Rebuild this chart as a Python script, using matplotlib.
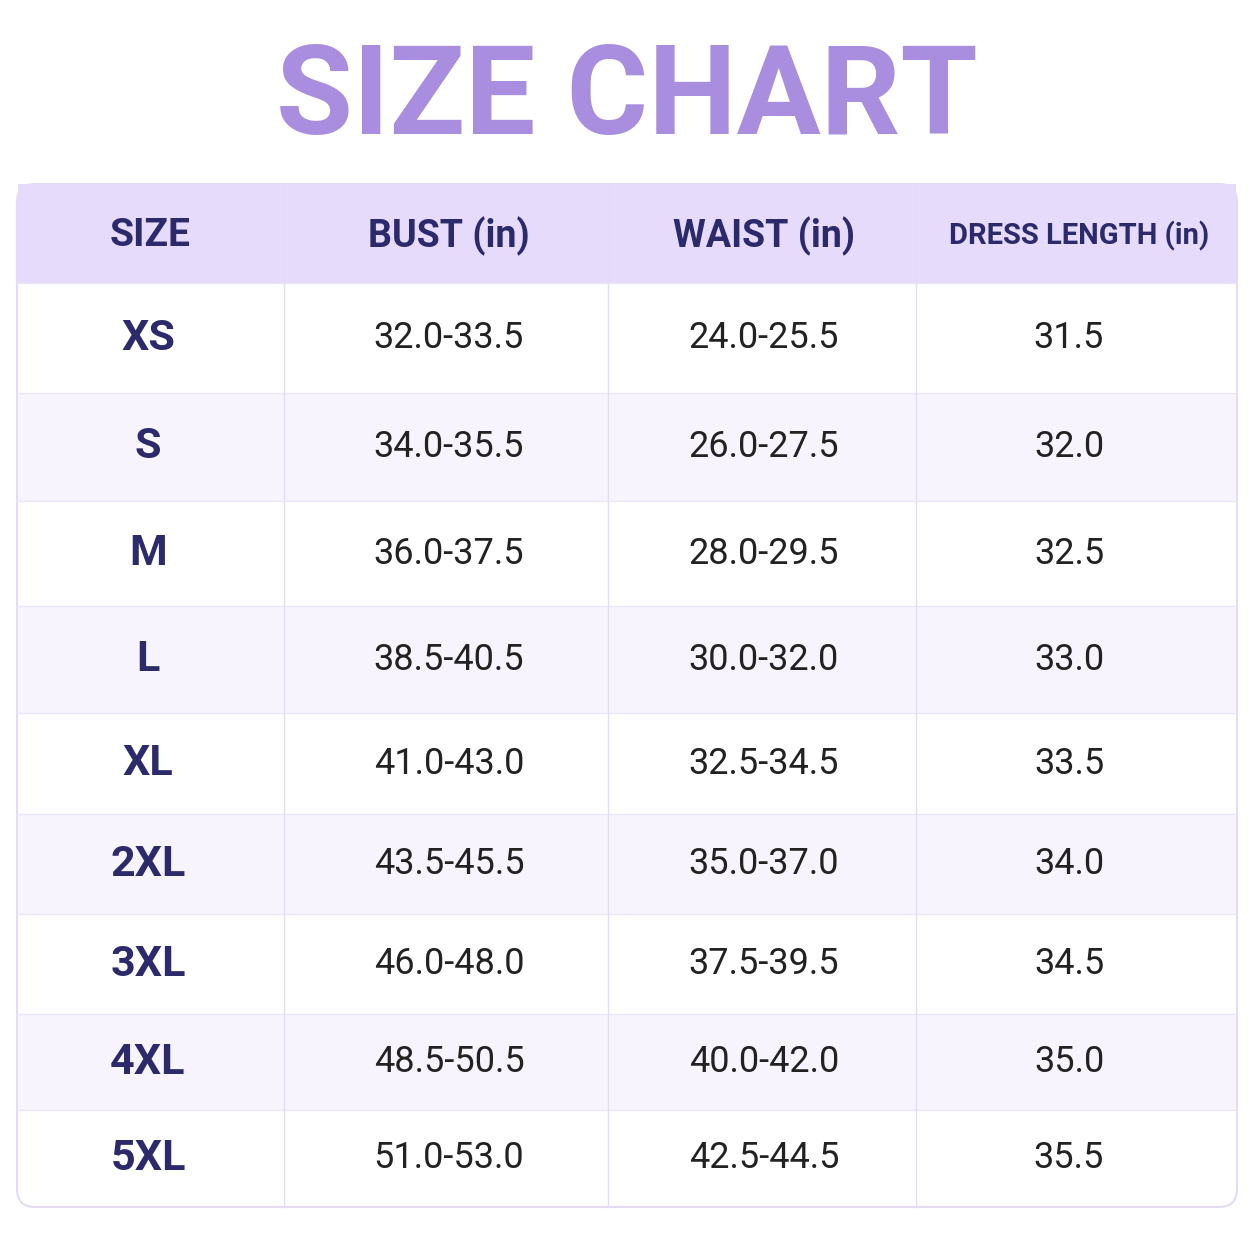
import matplotlib.pyplot as plt
from matplotlib.patches import FancyBboxPatch, Rectangle

sizes = ["XS", "S", "M", "L", "XL", "2XL", "3XL", "4XL", "5XL"]
bust = ["32.0-33.5", "34.0-35.5", "36.0-37.5", "38.5-40.5", "41.0-43.0",
        "43.5-45.5", "46.0-48.0", "48.5-50.5", "51.0-53.0"]
waist = ["24.0-25.5", "26.0-27.5", "28.0-29.5", "30.0-32.0", "32.5-34.5",
         "35.0-37.0", "37.5-39.5", "40.0-42.0", "42.5-44.5"]
length = ["31.5", "32.0", "32.5", "33.0", "33.5", "34.0", "34.5", "35.0", "35.5"]
headers = ["SIZE", "BUST (in)", "WAIST (in)", "DRESS LENGTH (in)"]

col_edges = [17, 284, 608, 916, 1237]
row_edges = [184, 283, 393, 501, 606, 713, 814, 914, 1014, 1110, 1207]

navy = "#2c2a6b"
fig = plt.figure(figsize=(12.54, 12.54), dpi=100)
ax = fig.add_axes([0, 0, 1, 1])
ax.set_xlim(0, 1254)
ax.set_ylim(1254, 0)
ax.axis("off")

ax.text(627, 100, "SIZE CHART", ha="center", va="center", fontsize=90,
        fontweight="bold", color="#a98ee0", family="Roboto")

# outer rounded frame
ax.add_patch(FancyBboxPatch((17, 184), 1220, 1023, boxstyle="round,pad=0,rounding_size=18",
                            fc="white", ec="#e4dcf5", lw=1.5, zorder=1))
for i in range(len(row_edges) - 1):
    y0, y1 = row_edges[i], row_edges[i + 1]
    if i == 0:
        fc = "#e6dbfa"
    elif i % 2 == 0:
        fc = "#f7f4fd"
    else:
        fc = None
    if fc:
        ax.add_patch(Rectangle((18, y0), 1218, y1 - y0, fc=fc, ec="none", zorder=1.5))
    if i > 0:
        ax.plot([17, 1237], [y0, y0], color="#ece6f8", lw=1, zorder=2)
for x in col_edges[1:-1]:
    ax.plot([x, x], [184, 1207], color="#e4dcf5", lw=1, zorder=2)

centers = [150, 449, 764, 1079]
hsizes = [28, 27, 27, 21]
for j, h in enumerate(headers):
    ax.text(centers[j], 236, h, ha="center", va="center", fontsize=hsizes[j],
            fontweight="bold", color=navy, family="Roboto", zorder=3)

vcenters = [150, 449, 764, 1069]
for i in range(len(sizes)):
    yc = (row_edges[i + 1] + row_edges[i + 2]) / 2
    ax.text(148, yc, sizes[i], ha="center", va="center", fontsize=31,
            fontweight="bold", color=navy, family="Roboto", zorder=3)
    for j, vals in enumerate([bust, waist, length]):
        ax.text(vcenters[j + 1], yc, vals[i], ha="center", va="center", fontsize=26,
                color="#222222", family="Roboto", zorder=3)

fig.savefig("out.png", dpi=100, facecolor="white")
